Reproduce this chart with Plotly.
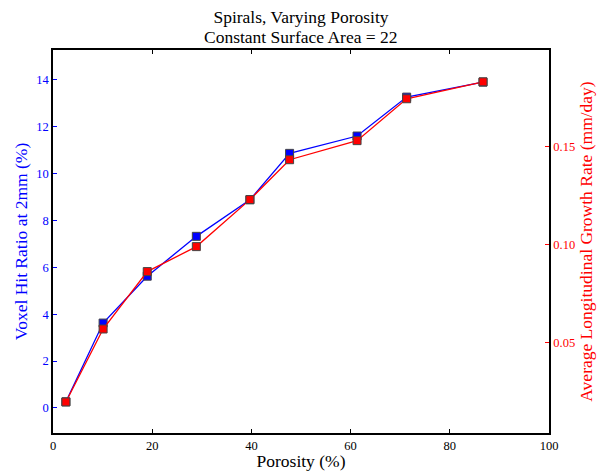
import plotly.graph_objects as go

porosity = [2.6, 10.1, 19.0, 28.9, 39.7, 47.7, 61.3, 71.3, 86.7]
hit_ratio = [0.26, 3.62, 5.62, 7.32, 8.88, 10.86, 11.60, 13.26, 13.90]
growth_rate = [0.020, 0.0571, 0.0863, 0.099, 0.1229, 0.1432, 0.1529, 0.1742, 0.1828]

x_ticks = [0, 20, 40, 60, 80, 100]
y_ticks = [0, 2, 4, 6, 8, 10, 12, 14]
y2_ticks = [0.05, 0.10, 0.15]
y2_labels = ["0.05", "0.10", "0.15"]

title_line1 = "Spirals, Varying Porosity"
title_line2 = "Constant Surface Area = 22"

FONT = "Liberation Serif, Times New Roman, serif"
H = 471

fig = go.Figure()
fig.add_trace(go.Scatter(
    x=porosity, y=hit_ratio, mode="lines+markers",
    line=dict(color="#0000ff", width=1.3),
    marker=dict(symbol="square", size=8, color="#0000ff", line=dict(color="#444444", width=1)),
    showlegend=False, yaxis="y"))
fig.add_trace(go.Scatter(
    x=porosity, y=growth_rate, mode="lines+markers",
    line=dict(color="#ff0000", width=1.3),
    marker=dict(symbol="square", size=8, color="#ff0000", line=dict(color="#444444", width=1)),
    showlegend=False, yaxis="y2"))

fig.add_annotation(text=title_line2, xref="paper", yref="paper",
                   x=0.5, y=1 + (50 - 37) / 383, xanchor="center", yanchor="middle",
                   showarrow=False, font=dict(family=FONT, size=17.5, color="black"))

fig.update_layout(
    width=608, height=H,
    margin=dict(l=53, r=59, t=50, b=38, autoexpand=False),
    paper_bgcolor="white", plot_bgcolor="white",
    font=dict(family=FONT, color="black"),
    title=dict(text=title_line1,
               x=0.5, xanchor="center", xref="paper",
               yref="container", y=1 - 17 / H, yanchor="middle",
               font=dict(family=FONT, size=17.5, color="black")),
    xaxis=dict(range=[0, 100], tickvals=x_ticks, ticks="inside", ticklen=4,
               tickcolor="black", showline=True, linecolor="black", linewidth=1.5,
               mirror="ticks", showgrid=False, zeroline=False, automargin=False,
               tickfont=dict(family=FONT, size=12.5, color="black"),
               title=dict(text="Porosity (%)", standoff=1,
                          font=dict(family=FONT, size=17.5, color="black"))),
    yaxis=dict(range=[-1.07, 15.27], tickvals=y_ticks, ticks="inside", ticklen=4,
               tickcolor="#0000ff", showline=True, linecolor="black", linewidth=1.5,
               showgrid=False, zeroline=False, automargin=False,
               tickfont=dict(family=FONT, size=12.5, color="#0000ff"),
               title=dict(text="Voxel Hit Ratio at 2mm (%)", standoff=4,
                          font=dict(family=FONT, size=17.5, color="#0000ff"))),
    yaxis2=dict(range=[0.0042, 0.199], tickvals=y2_ticks, ticktext=y2_labels,
                overlaying="y", side="right", ticks="inside", ticklen=4,
                tickcolor="#ff0000", showline=True, linecolor="black", linewidth=1.5,
                showgrid=False, zeroline=False, automargin=False,
                tickfont=dict(family=FONT, size=12.5, color="#ff0000"),
                title=dict(text="Average Longitudinal Growth Rate (mm/day)", standoff=6,
                           font=dict(family=FONT, size=17.5, color="#ff0000"))),
)

fig.write_html("out.html")
